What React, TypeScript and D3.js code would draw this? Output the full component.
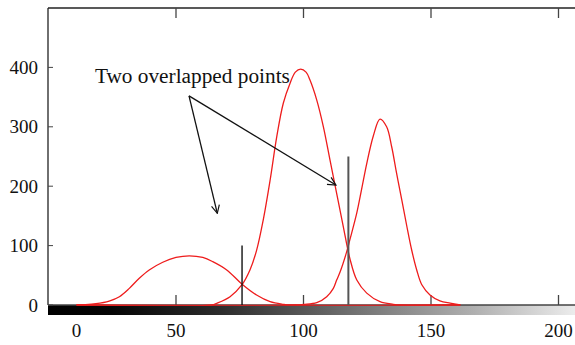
import React from "react";
import * as d3 from "d3";

// curve samples: [x, count]
const peakA: [number, number][] = [
  [11, 0], [14, 0.5], [18.6, 2.2], [23.8, 6.7], [27.8, 14], [31.7, 28], [35.6, 45], [39.5, 59],
  [44.8, 72], [50, 80], [55.2, 82.8], [60.5, 80], [64.4, 73], [69.9, 59], [75.8, 35.4],
  [81.6, 16.8], [86.9, 5.6], [92.1, 1.2], [95, 0], [161.5, 0],
];
const peakB: [number, number][] = [
  [11, 0], [64, 0], [66, 2.9], [71.2, 14], [75.8, 33.7], [79, 59], [81.6, 92], [84.2, 143],
  [86.9, 210], [89.5, 283], [92.1, 340], [94.7, 373], [96.8, 392], [98.9, 397], [101, 392],
  [102.5, 379], [105.2, 345], [107.8, 300], [110.4, 244], [113, 188], [115.6, 132], [118.2, 78],
  [120.9, 42], [124.8, 20], [130, 5.6], [135.2, 1.2], [138, 0], [161.5, 0],
];
const peakC: [number, number][] = [
  [11, 0], [97, 0], [100, 1], [105.2, 3.9], [109.1, 14], [111.7, 28], [113, 42], [114.3, 55],
  [116.9, 89], [118.2, 110], [120.9, 155], [122.8, 195], [124.8, 238], [127.4, 285], [130, 313],
  [132.6, 300], [134.6, 266], [136.5, 222], [138.5, 178], [140.5, 133], [142.4, 93], [144.4, 59],
  [146.4, 34], [149.6, 17], [153.5, 7], [157.5, 3], [161.5, 0],
];
const curves = [peakA, peakB, peakC];

// the two vertical sticks (thresholds)
const sticks: { x: number; y: number; color: string; w: number }[] = [
  { x: 75.9, y: 100, color: "#111", w: 1.4 },
  { x: 117.6, y: 250, color: "#555", w: 2 },
];

const xTicks = [50, 100, 150, 200];
const yTicks = [0, 100, 200, 300, 400];

const noteText = "Two overlapped points";
const noteAnchor: [number, number] = [18.2, 373.7];
const arrowFrom: [number, number] = [55.1, 352];
const arrowTargets: [number, number][] = [
  [66.2, 154.4],
  [112.7, 202],
];

const W = 575;
const H = 345;
const font = "'Liberation Serif', 'Times New Roman', serif";

export default function App() {
  const x = d3.scaleLinear().domain([0, 200]).range([48.5, 558.5]);
  const y = d3.scaleLinear().domain([0, 500]).range([305, 8]);
  const left = 48;
  const base = y(0);
  const top = y(500);

  const line = d3
    .line<[number, number]>()
    .x((d) => x(d[0]))
    .y((d) => Math.min(base, y(d[1])))
    .curve(d3.curveCatmullRom.alpha(0.5));

  return (
    <svg
      width={W}
      height={H}
      style={{ position: "absolute", left: 0, top: 0, background: "#fff" }}
      fontFamily={font}
    >
      <defs>
        <linearGradient id="grey" gradientUnits="userSpaceOnUse" x1={left} x2={W} y1={0} y2={0}>
          <stop offset="0" stopColor="#000" />
          <stop offset="0.12" stopColor="#050505" />
          <stop offset="0.33" stopColor="#2d2d2d" />
          <stop offset="0.54" stopColor="#666" />
          <stop offset="0.67" stopColor="#8a8a8a" />
          <stop offset="0.81" stopColor="#b0b0b0" />
          <stop offset="0.95" stopColor="#dcdcdc" />
          <stop offset="1" stopColor="#ececec" />
        </linearGradient>
        <marker
          id="head"
          viewBox="0 0 10 10"
          refX="9"
          refY="5"
          markerWidth="10"
          markerHeight="10"
          markerUnits="userSpaceOnUse"
          orient="auto"
        >
          <path d="M1,1 L9,5 L1,9" fill="none" stroke="#111" strokeWidth={1.2} />
        </marker>
        <clipPath id="plot">
          <rect x={left} y={top} width={W - left} height={base - top + 0.7} />
        </clipPath>
      </defs>

      {/* grey level bar */}
      <rect x={left} y={base} width={W - left} height={10} fill="url(#grey)" />

      {/* frame */}
      <line x1={left} x2={W} y1={top} y2={top} stroke="#222" strokeWidth={1.3} />
      <line x1={left} x2={left} y1={top} y2={base} stroke="#222" strokeWidth={1.3} />
      <line x1={left} x2={W} y1={base} y2={base} stroke="#444" strokeWidth={1.3} />

      {xTicks.map((t) => (
        <g key={t}>
          <line x1={x(t)} x2={x(t)} y1={top} y2={top + 10} stroke="#444" strokeWidth={1.3} />
          <line x1={x(t)} x2={x(t)} y1={base} y2={base - 10} stroke="#444" strokeWidth={1.3} />
          <text x={x(t)} y={337} textAnchor="middle" fontSize={19} fill="#111">
            {t}
          </text>
        </g>
      ))}
      <text x={x(peakA[0][0])} y={337} textAnchor="middle" fontSize={19} fill="#111">
        0
      </text>

      {yTicks.map((t) => (
        <g key={t}>
          <line x1={left} x2={left + 5} y1={y(t)} y2={y(t)} stroke="#444" strokeWidth={1} />
          <text x={38} y={y(t)} dy="0.35em" textAnchor="end" fontSize={19} fill="#111">
            {t}
          </text>
        </g>
      ))}

      <g clipPath="url(#plot)">
        {curves.map((c, i) => (
          <path key={i} d={line(c) ?? ""} fill="none" stroke="#ee1c1c" strokeWidth={1.3} />
        ))}
      </g>

      {sticks.map((s, i) => (
        <line key={i} x1={x(s.x)} x2={x(s.x)} y1={base} y2={y(s.y)} stroke={s.color} strokeWidth={s.w} />
      ))}

      <text
        x={x(noteAnchor[0])}
        y={y(noteAnchor[1])}
        fontSize={20}
        fill="#111"
        textLength={195}
        lengthAdjust="spacingAndGlyphs"
      >
        {noteText}
      </text>
      {arrowTargets.map((t, i) => (
        <line
          key={i}
          x1={x(arrowFrom[0])}
          y1={y(arrowFrom[1])}
          x2={x(t[0])}
          y2={y(t[1])}
          stroke="#111"
          strokeWidth={1.3}
          markerEnd="url(#head)"
        />
      ))}
    </svg>
  );
}
